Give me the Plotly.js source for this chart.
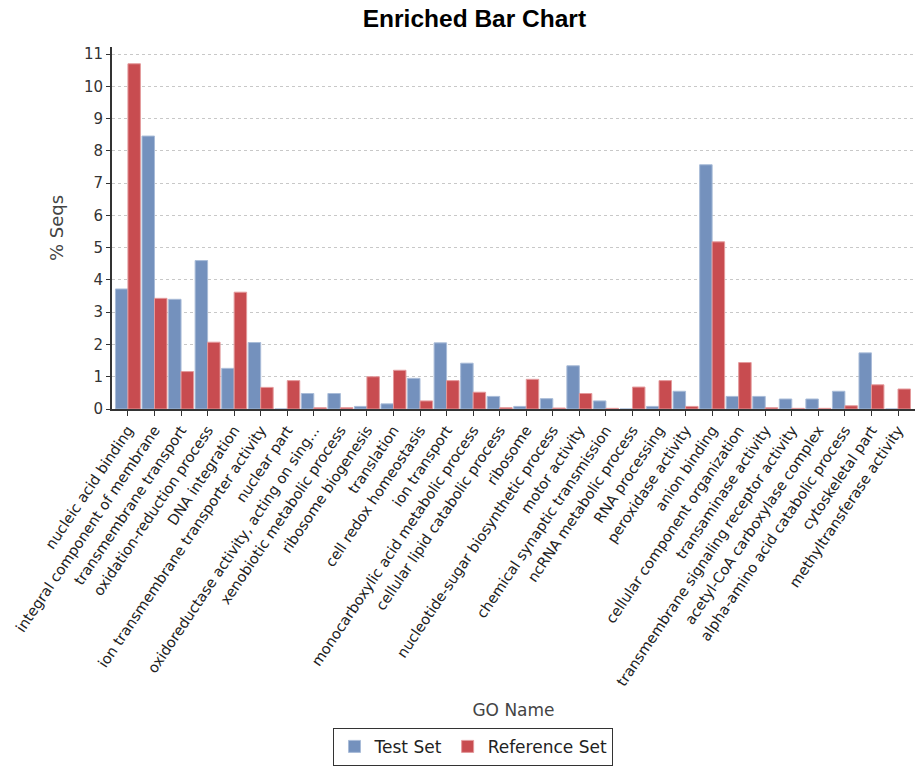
<!DOCTYPE html>
<html>
<head>
<meta charset="utf-8">
<script src="https://cdn.plot.ly/plotly-3.0.1.min.js"></script>
<style>html,body{margin:0;padding:0;background:#fff;}#chart{width:923px;height:766px;}</style>
</head>
<body>
<div id="chart"></div>
<script>
const categories = [
  "nucleic acid binding",
  "integral component of membrane",
  "transmembrane transport",
  "oxidation-reduction process",
  "DNA integration",
  "ion transmembrane transporter activity",
  "nuclear part",
  "oxidoreductase activity, acting on sing...",
  "xenobiotic metabolic process",
  "ribosome biogenesis",
  "translation",
  "cell redox homeostasis",
  "ion transport",
  "monocarboxylic acid metabolic process",
  "cellular lipid catabolic process",
  "ribosome",
  "nucleotide-sugar biosynthetic process",
  "motor activity",
  "chemical synaptic transmission",
  "ncRNA metabolic process",
  "RNA processing",
  "peroxidase activity",
  "anion binding",
  "cellular component organization",
  "transaminase activity",
  "transmembrane signaling receptor activity",
  "acetyl-CoA carboxylase complex",
  "alpha-amino acid catabolic process",
  "cytoskeletal part",
  "methyltransferase activity"
];
const testSet = [3.72, 8.46, 3.40, 4.60, 1.26, 2.06, 0, 0.48, 0.48, 0.08,
  0.16, 0.95, 2.05, 1.42, 0.39, 0.08, 0.32, 1.34, 0.25, 0,
  0.08, 0.55, 7.57, 0.39, 0.39, 0.31, 0.31, 0.55, 1.74, 0];
const referenceSet = [10.70, 3.43, 1.16, 2.07, 3.62, 0.67, 0.88, 0.04, 0.04, 1.00,
  1.20, 0.25, 0.88, 0.52, 0.04, 0.92, 0.03, 0.48, 0.02, 0.68,
  0.88, 0.08, 5.18, 1.44, 0.04, 0.02, 0.02, 0.10, 0.75, 0.62];
const yTicks = [0,1,2,3,4,5,6,7,8,9,10,11];

const idx = categories.map((c, i) => i);
const font = "DejaVu Sans, Verdana, sans-serif";

const traces = [
  {type: "bar", name: "Test Set", x: idx, y: testSet,
   marker: {color: "#7491bd", line: {color: "#a9bcd8", width: 1}}},
  {type: "bar", name: "Reference Set", x: idx, y: referenceSet,
   marker: {color: "#c84c50", line: {color: "#e49a9c", width: 1}}}
];

const layout = {
  width: 923, height: 766,
  paper_bgcolor: "#fff", plot_bgcolor: "#fff",
  margin: {l: 112, r: 8, t: 47, b: 357},
  barmode: "group", bargap: 0.06, bargroupgap: 0,
  font: {family: font, color: "#333"},
  title: {text: "<b>Enriched Bar Chart</b>", x: 0.514, xanchor: "center", y: 0.976, yanchor: "middle",
          font: {family: "Liberation Sans, Arial, sans-serif", size: 24.5, color: "#000"}},
  xaxis: {
    range: [-0.6, 29.64], tickmode: "array", tickvals: idx, ticktext: categories,
    tickangle: -56, tickfont: {family: font, size: 14.5, color: "#222"},
    ticks: "outside", ticklen: 5, tickcolor: "#333",
    showline: true, linecolor: "#333", linewidth: 2, showgrid: false, zeroline: false,
    title: {text: "GO Name", font: {family: font, size: 17, color: "#444"}, standoff: 16},
    automargin: false
  },
  yaxis: {
    range: [0, 11.22], tickmode: "array", tickvals: yTicks,
    tickfont: {family: font, size: 15, color: "#333"},
    ticks: "outside", ticklen: 4, tickcolor: "#333",
    showline: true, linecolor: "#333", linewidth: 2,
    showgrid: true, gridcolor: "#c8c8c8", griddash: "dot", gridwidth: 1,
    zeroline: false,
    title: {text: "% Seqs", font: {family: font, size: 18, color: "#444"}, standoff: 16},
    automargin: false
  },
  legend: {orientation: "h", xref: "container", yref: "container", x: 0.513, xanchor: "center",
           y: 0.025, yanchor: "middle", bordercolor: "#333", borderwidth: 1,
           font: {family: font, size: 17, color: "#222"}, itemwidth: 30, tracegroupgap: 0},
  showlegend: true
};

Plotly.newPlot("chart", traces, layout, {displayModeBar: false, staticPlot: true});
</script>
</body>
</html>
